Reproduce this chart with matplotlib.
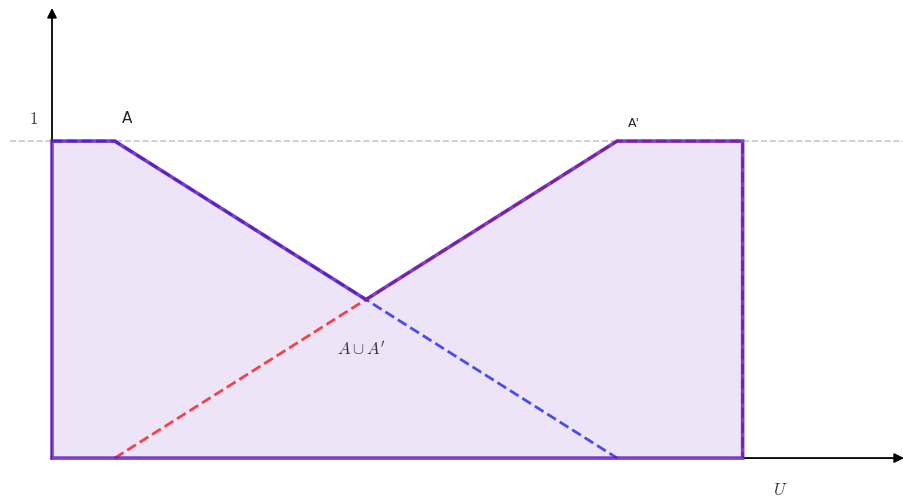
import numpy as np
import matplotlib.pyplot as plt

plt.rcParams['mathtext.fontset'] = 'cm'

# fuzzy sets on universe U (piecewise linear breakpoints)
u_a = [0, 1, 9]
mu_a = [1, 1, 0]                # A
u_a2 = [1, 9, 11, 11]
mu_a2 = [0, 1, 1, 0]            # A'
u = [0, 1, 5, 9, 11]
mu_union = [1, 1, 0.5, 1, 1]    # A u A'

fig = plt.figure(figsize=(9.04, 4.98), dpi=100)
ax = fig.add_axes([0, 0, 1, 1])
ax.set_xlim(-0.828, 13.57)
ax.set_ylim(-0.126, 1.445)
ax.axis('off')

# reference line at membership 1
ax.plot([-0.67, 13.57], [1, 1], '--', color='#c8c8c8', lw=1.2, zorder=1)

# axes with arrows
ax.annotate('', xy=(0, 1.42), xytext=(0, 0),
            arrowprops=dict(arrowstyle='-|>', color='black', lw=1.3,
                            mutation_scale=14, shrinkA=0, shrinkB=0), zorder=1)
ax.annotate('', xy=(13.57, 0), xytext=(0, 0),
            arrowprops=dict(arrowstyle='-|>', color='black', lw=1.3,
                            mutation_scale=14, shrinkA=0, shrinkB=0), zorder=1)

# union region
ax.fill_between(u, 0, mu_union, color='#ede4f8', zorder=2)

# individual sets
ax.plot(u_a, mu_a, '--', color='#4b4bf0', lw=2, zorder=3)
ax.plot(u_a2, mu_a2, '--', color='#f2424c', lw=2, zorder=3)

# union outline
ax.plot([0] + u + [11, 0], [0] + mu_union + [0, 0], color='#5e18bc', lw=2.6,
        alpha=0.8, solid_joinstyle='miter', zorder=4)

# labels
ax.text(-0.3, 1.07, '$1$', fontsize=12, ha='center', va='center', color='#333333')
ax.text(1.2, 1.07, 'A', fontsize=11, ha='center', va='center', color='#222222')
ax.text(9.27, 1.055, "A'", fontsize=9, ha='center', va='center', color='#222222')
ax.text(4.93, 0.34, "$A \\cup A'$", fontsize=12, ha='center', va='center', color='#333333')
ax.text(11.6, -0.1, '$U$', fontsize=12, ha='center', va='center', color='#333333')

fig.savefig('out.png', dpi=100)
